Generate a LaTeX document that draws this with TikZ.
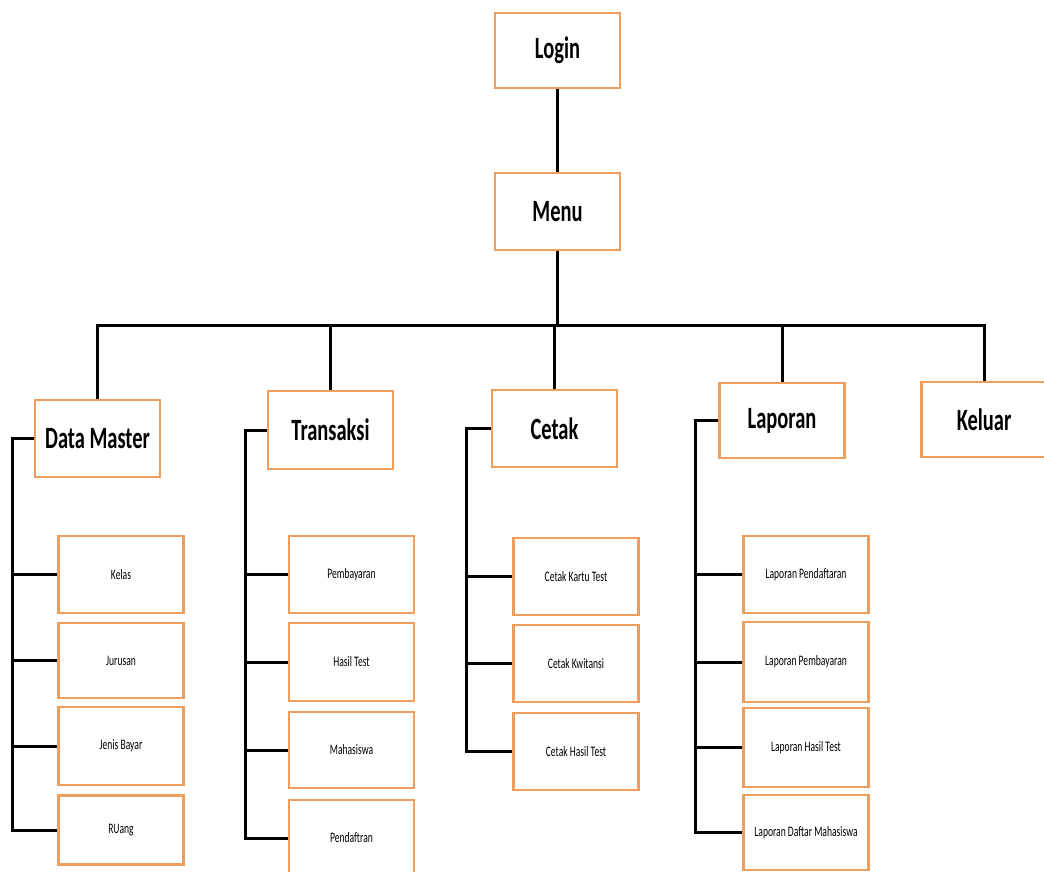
\documentclass[tikz,border=0pt]{standalone}
\usepackage{fontspec}
\newfontfamily\calib[FakeStretch=0.66]{Carlito}
\usetikzlibrary{positioning}
\definecolor{boxorange}{RGB}{237,158,92}

\begin{document}
\begin{tikzpicture}[x=1pt, y=-1pt,
    mainbox/.style={draw=boxorange, line width=2.2pt, fill=white, minimum width=125, minimum height=77,
      inner sep=0pt, font=\calib\bfseries\fontsize{31}{36}\selectfont},
    subbox/.style={draw=boxorange, line width=2.2pt, fill=white, minimum width=125, minimum height=77,
      inner sep=0pt, font=\calib\fontsize{14.5}{17}\selectfont},
    link/.style={black, line width=3pt}]
      \useasboundingbox (0,0) rectangle (1044,872);

      % Top of the tree
      \node[mainbox, minimum height=75] (login) at (557.5,50.5) {Login};
      \node[mainbox] (menu) at (557.5,211.5) {Menu};
      \draw[black, line width=2.2pt] (login) -- (menu);

      % Main menu items
      \node[mainbox] (dm) at (97.5,438.5) {Data Master};
      \node[mainbox, minimum height=78] (trans) at (330.5,430) {Transaksi};
      \node[mainbox] (cetak) at (554.5,428.5) {Cetak};
      \node[mainbox, minimum height=75] (lap) at (782,420.5) {Laporan};
      \node[mainbox, minimum height=75] (keluar) at (984,419.5) {Keluar};

      % Bus from Menu
      \coordinate (bus) at (557.5,325);
      \draw[link] (menu) -- (bus);
      \draw[link] (dm.north) |- (bus) -| (keluar.north);
      \foreach \m in {trans,cetak,lap} {
        \draw[link] (\m.north) -- (\m.north |- bus);
      }

      % Data Master
      \coordinate (dmspine) at (12,435);
      \foreach \y/\h/\txt [count=\i] in {574.5/77/Kelas, 660.5/75/Jurusan, 746/78/Jenis Bayar, 830/69/RUang} {
        \node[subbox, minimum height=\h] (dm\i) at (121,\y) {\txt};
        \draw[link] (dm\i.west) -- (dm\i.west -| dmspine);
      }
      \draw[link] (dm.west) -| (dm4.west -| dmspine) -- (dm4.west);

      % Transaksi
      \coordinate (trspine) at (245,432);
      \foreach \y/\h/\txt [count=\i] in {574.5/77/Pembayaran, 662/78/Hasil Test, 750/76/Mahasiswa, 838/76/Pendaftran} {
        \node[subbox, minimum height=\h] (tr\i) at (351.5,\y) {\txt};
        \draw[link] (tr\i.west) -- (tr\i.west -| trspine);
      }
      \draw[link] (trans.west) -| (tr4.west -| trspine) -- (tr4.west);

      % Cetak
      \coordinate (ctspine) at (466,428);
      \foreach \y/\txt [count=\i] in {576.5/Cetak Kartu Test, 663.5/Cetak Kwitansi, 751.5/Cetak Hasil Test} {
        \node[subbox] (ct\i) at (576,\y) {\txt};
        \draw[link] (ct\i.west) -- (ct\i.west -| ctspine);
      }
      \draw[link] (cetak.west) -| (ct3.west -| ctspine) -- (ct3.west);

      % Laporan
      \coordinate (lpspine) at (695,422);
      \foreach \y/\h/\txt [count=\i] in {574.5/77/Laporan Pendaftaran, 662/80/Laporan Pembayaran,
          747.5/79/Laporan Hasil Test, 832.5/75/Laporan Daftar Mahasiswa} {
        \node[subbox, minimum height=\h] (lp\i) at (806,\y) {\txt};
        \draw[link] (lp\i.west) -- (lp\i.west -| lpspine);
      }
      \draw[link] (lap.west) -| (lp4.west -| lpspine) -- (lp4.west);
    \end{tikzpicture}
\end{document}
